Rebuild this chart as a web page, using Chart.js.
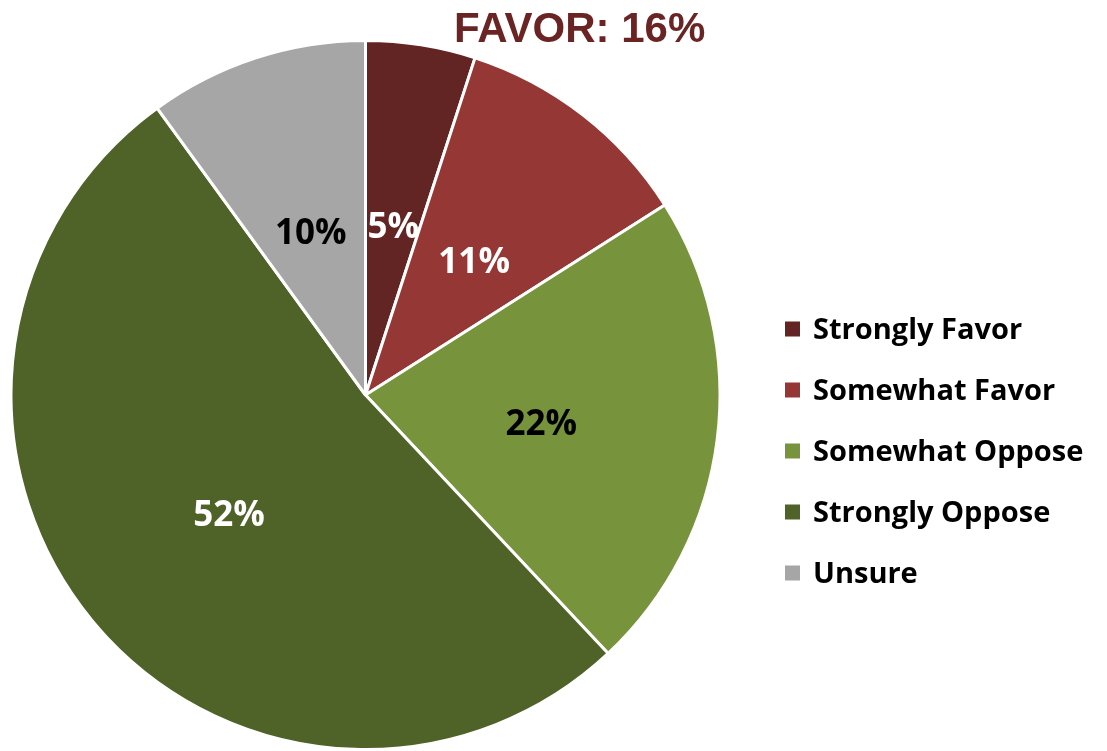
<!DOCTYPE html>
<html>
<head>
<meta charset="utf-8">
<script src="https://cdn.jsdelivr.net/npm/chart.js@4"></script>
<style>
html,body{margin:0;padding:0;background:#fff;}
#wrap{width:1107px;height:751px;position:relative;}
</style>
</head>
<body>
<div id="wrap"><canvas id="c" width="1107" height="751"></canvas></div>
<script>
const categories = ["Strongly Favor", "Somewhat Favor", "Somewhat Oppose", "Strongly Oppose", "Unsure"];
const values = [5, 11, 22, 52, 10];
const sliceColors = ["#632523", "#953735", "#77933C", "#4F6228", "#A6A6A6"];
const labelColors = ["#ffffff", "#ffffff", "#000000", "#ffffff", "#000000"];
const titleText = "FAVOR: 16%";

const labelFont = "bold 35px 'Open Sans', Lato, sans-serif";
const legendFont = "bold 29px 'Open Sans', Lato, sans-serif";

const sliceLabels = {
  id: 'sliceLabels',
  afterDatasetsDraw(chart) {
    const ctx = chart.ctx;
    const meta = chart.getDatasetMeta(0);
    ctx.save();
    ctx.font = labelFont;
    ctx.textAlign = 'center';
    ctx.textBaseline = 'middle';
    meta.data.forEach((arc, i) => {
      const p = arc.getCenterPoint();
      ctx.fillStyle = labelColors[i];
      ctx.fillText(values[i] + '%', p.x, p.y + 8);
    });
    ctx.restore();
  }
};

const sideLegend = {
  id: 'sideLegend',
  afterDraw(chart) {
    const ctx = chart.ctx;
    ctx.save();
    ctx.font = legendFont;
    ctx.textBaseline = 'middle';
    ctx.textAlign = 'left';
    const x0 = 785, y0 = 329, step = 61, box = 15;
    chart.data.labels.forEach((lab, i) => {
      const y = y0 + i * step;
      ctx.fillStyle = chart.data.datasets[0].backgroundColor[i];
      ctx.fillRect(x0, y - box / 2, box, box);
      ctx.fillStyle = '#000';
      ctx.fillText(lab, 813, y + 2);
    });
    ctx.restore();
  }
};

const topTitle = {
  id: 'topTitle',
  afterDraw(chart) {
    const ctx = chart.ctx;
    ctx.save();
    ctx.font = "bold 42px 'Liberation Sans', Arial, sans-serif";
    ctx.fillStyle = '#6A2424';
    ctx.textAlign = 'left';
    ctx.textBaseline = 'alphabetic';
    ctx.fillText(titleText, 454, 42);
    ctx.restore();
  }
};

new Chart(document.getElementById('c'), {
  type: 'pie',
  data: {
    labels: categories,
    datasets: [{
      data: values,
      backgroundColor: sliceColors,
      borderColor: '#ffffff',
      borderWidth: 3
    }]
  },
  options: {
    responsive: false,
    animation: false,
    layout: { padding: { left: 8, top: 39, right: 384, bottom: 0 } },
    plugins: {
      legend: { display: false },
      tooltip: { enabled: false },
      title: { display: false }
    }
  },
  plugins: [sliceLabels, sideLegend, topTitle]
});
</script>
</body>
</html>
